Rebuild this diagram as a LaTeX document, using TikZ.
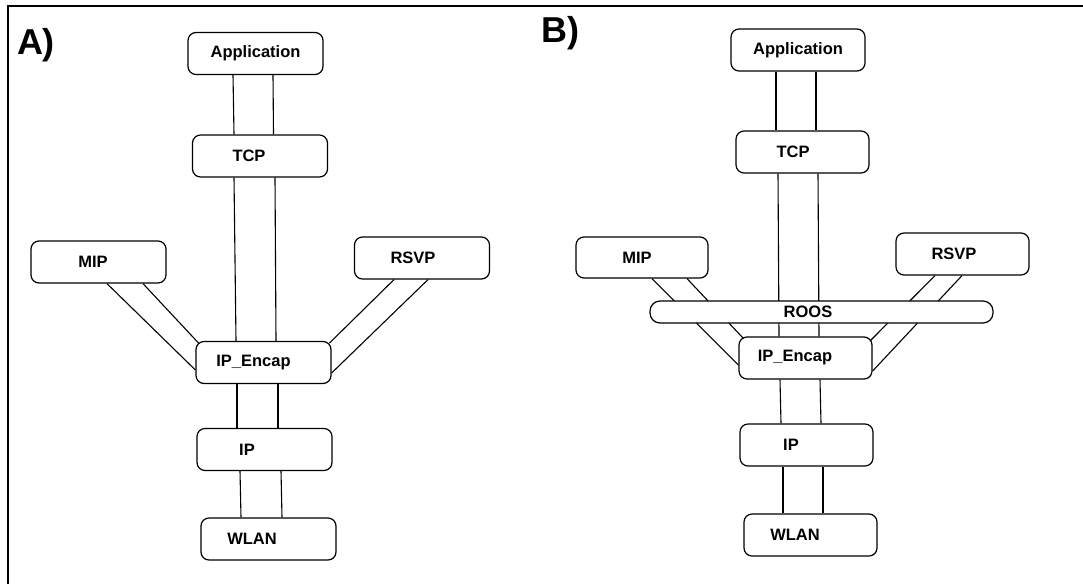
\documentclass[tikz,border=0pt]{standalone}
\usepackage{fontspec}
\setmainfont{Liberation Sans}
\usetikzlibrary{positioning}
\begin{document}
\begin{tikzpicture}[x=1pt,y=-1pt,
  layer/.style={draw, line width=1.2pt, rounded corners=8pt, fill=white,
    minimum width=135pt, minimum height=42pt, inner sep=0pt,
    font=\fontsize{16.5}{18}\selectfont\bfseries},
  wide/.style={layer, minimum width=343pt, minimum height=22pt, rounded corners=10pt},
  panel/.style={font=\fontsize{36}{40}\selectfont\bfseries, inner sep=0pt},
  link/.style={line width=1.1pt}]
\useasboundingbox (0,0) rectangle (1083,584);

% outer frame (top and left edges)
\draw[line width=1.6pt] (1083,6) -- (8,6) -- (8,584);

% ---------- A) ----------
\node[panel] (labA) at (36,45) {A)};
\node[layer] (appA)  at (255.5,53.5) {Application};
\node[layer] (tcpA)  at (260,156)    {TCP\hspace*{22pt}};
\node[layer] (mipA)  at (98.5,262)   {MIP\hspace*{11pt}};
\node[layer] (rsvpA) at (422,258)    {RSVP\hspace*{18pt}};
\node[layer] (encA)  at (263.5,362.5){IP\_Encap\hspace*{20pt}};
\node[layer] (ipA)   at (264.5,449.5){IP\hspace*{35pt}};
\node[layer] (wlanA) at (268.5,539)  {WLAN\hspace*{33pt}};

\draw[link] ([xshift=-22.5pt]appA.south) -- ([xshift=-26pt]tcpA.north);
\draw[link] ([xshift=17.5pt]appA.south)  -- ([xshift=13.5pt]tcpA.north);
\draw[link] ([xshift=-26pt]tcpA.south)   -- ([xshift=-27.5pt]encA.north);
\draw[link] ([xshift=15pt]tcpA.south)    -- ([xshift=12.5pt]encA.north);
\draw[link] ([xshift=8.5pt]mipA.south)   -- ([yshift=-7.5pt]encA.west);
\draw[link] ([xshift=44.5pt]mipA.south)  -- ([xshift=3pt,yshift=-2pt]encA.north west);
\draw[link] ([xshift=-28pt]rsvpA.south)  -- ([xshift=-2pt,yshift=-2pt]encA.north east);
\draw[link] ([xshift=6pt]rsvpA.south)    -- ([yshift=-10.5pt]encA.east);
\draw[link] ([xshift=-26.5pt]encA.south) -- ([xshift=-27.5pt]ipA.north);
\draw[link] ([xshift=14.5pt]encA.south)  -- ([xshift=13.5pt]ipA.north);
\draw[link] ([xshift=-24.5pt]ipA.south)  -- ([xshift=-27.5pt]wlanA.north);
\draw[link] ([xshift=16.5pt]ipA.south)   -- ([xshift=13.5pt]wlanA.north);

% ---------- B) ----------
\node[panel] (labB) at (560,33) {B)};
\node[layer, minimum width=134pt] (appB)  at (798,50)    {Application};
\node[layer, minimum width=133pt] (tcpB)  at (802.5,152) {TCP\hspace*{19pt}};
\node[layer, minimum width=132pt, minimum height=41pt] (mipB) at (642,257.5) {MIP\hspace*{10pt}};
\node[layer, minimum width=133pt] (rsvpB) at (962.5,254) {RSVP\hspace*{17pt}};
\node[layer, minimum width=133pt] (encB)  at (805.5,358) {IP\_Encap\hspace*{21pt}};
\node[layer, minimum width=133pt] (ipB)   at (806.5,445) {IP\hspace*{31pt}};
\node[layer, minimum width=133pt] (wlanB) at (810.5,535) {WLAN\hspace*{31pt}};

\draw[link] ([xshift=-22pt]appB.south)   -- ([xshift=-26.5pt]tcpB.north);
\draw[link] ([xshift=18pt]appB.south)    -- ([xshift=13.5pt]tcpB.north);
\draw[link] ([xshift=-24.5pt]tcpB.south) -- ([xshift=-26.5pt]encB.north);
\draw[link] ([xshift=15.5pt]tcpB.south)  -- ([xshift=13.5pt]encB.north);
\draw[link] ([xshift=10pt]mipB.south)    -- ([yshift=-7pt]encB.west);
\draw[link] ([xshift=45pt]mipB.south)    -- ([xshift=5pt,yshift=-2pt]encB.north west);
\draw[link] ([xshift=-27.5pt]rsvpB.south) -- ([xshift=-2pt,yshift=-4pt]encB.north east);
\draw[link] ([xshift=-0.5pt]rsvpB.south) -- ([yshift=-13pt]encB.east);
\draw[link] ([xshift=-25.5pt]encB.south) -- ([xshift=-25.5pt]ipB.north);
\draw[link] ([xshift=14.5pt]encB.south)  -- ([xshift=14.5pt]ipB.north);
\draw[link] ([xshift=-23.5pt]ipB.south)  -- ([xshift=-27.5pt]wlanB.north);
\draw[link] ([xshift=16.5pt]ipB.south)   -- ([xshift=12.5pt]wlanB.north);

% ROOS bar lies across the links beneath it
\node[wide] (roos) at (821.5,312) {ROOS\hspace*{27pt}};
\end{tikzpicture}
\end{document}
